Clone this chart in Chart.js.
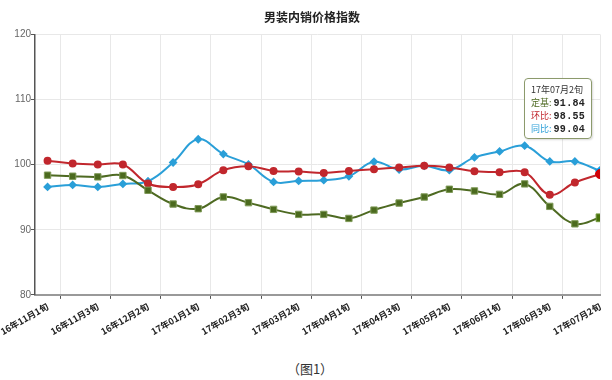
<!DOCTYPE html>
<html>
<head>
<meta charset="utf-8">
<script src="https://cdn.jsdelivr.net/npm/chart.js@4.4.0/dist/chart.umd.min.js"></script>
<style>
  body { margin: 0; background: #fff; }
  #wrap { position: relative; width: 612px; height: 350px; }
  #tip {
    position: absolute; display: none; background: rgba(255,255,255,0.95);
    border: 1.5px solid #8c9a6c; border-radius: 4px; padding: 4px 6px 3px 6px;
    font: 9px "Noto Sans CJK SC", sans-serif; color: #333; line-height: 13px;
    box-shadow: 1px 1px 2px rgba(0,0,0,0.15); white-space: nowrap;
  }
  #tip b { font: bold 10px "Liberation Mono", monospace; color: #222; letter-spacing: 0.3px; }
  #caption { width: 612px; text-align: center; font: 13px "Noto Sans CJK SC", sans-serif; color: #333; margin-top: 9px; padding-left: 8px; box-sizing: border-box; }
</style>
</head>
<body>
<div id="wrap">
  <canvas id="chart1" width="612" height="350"></canvas>
  <div id="tip"></div>
</div>
<div id="caption">（图1）</div>
<script>
var labels = ['16年11月1旬','16年11月2旬','16年11月3旬','16年12月1旬','16年12月2旬','16年12月3旬',
  '17年01月1旬','17年01月2旬','17年02月3旬','17年03月1旬','17年03月2旬','17年03月3旬',
  '17年04月1旬','17年04月2旬','17年04月3旬','17年05月1旬','17年05月2旬','17年05月3旬',
  '17年06月1旬','17年06月2旬','17年06月3旬','17年07月1旬','17年07月2旬'];
var dingji = [98.38, 98.22, 98.12, 98.33, 96.06, 93.95, 93.23, 95.03, 94.16, 93.13, 92.36, 92.36,
  91.74, 93.02, 94.10, 95.03, 96.22, 95.96, 95.44, 97.04, 93.59, 90.91, 91.84];
var huanbi = [100.59, 100.18, 100.03, 100.03, 97.10, 96.57, 96.99, 99.15, 99.77, 99.04, 98.95, 98.73,
  99.04, 99.31, 99.56, 99.82, 99.56, 99.00, 98.84, 98.84, 95.39, 97.25, 98.55];
var tongbi = [96.58, 96.89, 96.58, 97.04, 97.45, 100.33, 103.90, 101.62, 100.03, 97.35, 97.50, 97.61,
  98.22, 100.44, 99.25, 99.82, 99.15, 101.11, 102.03, 102.91, 100.49, 100.49, 99.04];
var seriesNames = ['定基', '环比', '同比'];
var yTicks = [80, 90, 100, 110, 120];

function pts(arr) {
  return arr.map(function (v, i) { return { x: i, y: v }; });
}

var font = '"Noto Sans CJK SC", sans-serif';

function externalTip(context) {
  var tip = document.getElementById('tip');
  var t = context.tooltip;
  if (t.opacity === 0) { tip.style.display = 'none'; return; }
  var html = '<div>' + labels[t.dataPoints[0].dataIndex] + '</div>';
  t.dataPoints.forEach(function (dp) {
    html += '<div><span style="color:' + dp.dataset.borderColor + '">' + dp.dataset.label + ':</span> <b>' +
      dp.parsed.y.toFixed(2) + '</b></div>';
  });
  tip.innerHTML = html;
  tip.style.display = 'block';
  tip.style.left = (t.caretX - 76) + 'px';
  tip.style.top = (context.chart.chartArea.top + 44) + 'px';
}

var ctx1 = document.getElementById('chart1').getContext('2d');
var chart1 = new Chart(ctx1, {
  type: 'line',
  data: {
    datasets: [{
      label: seriesNames[0],
      data: pts(dingji),
      borderColor: '#4e6a22',
      backgroundColor: '#4b6a1e',
      pointBorderColor: '#7f9a58',
      pointBorderWidth: 1,
      pointStyle: 'rect',
      pointRadius: 4.5,
      pointHoverRadius: 5.5,
      borderWidth: 2
    }, {
      label: seriesNames[1],
      data: pts(huanbi),
      borderColor: '#c1272d',
      backgroundColor: '#c1272d',
      pointBorderColor: '#c1272d',
      pointStyle: 'circle',
      pointRadius: 3,
      pointHoverRadius: 4.5,
      borderWidth: 2
    }, {
      label: seriesNames[2],
      data: pts(tongbi),
      borderColor: '#2a9fd8',
      backgroundColor: '#2a9fd8',
      pointBorderColor: '#2a9fd8',
      pointStyle: 'rectRot',
      pointRadius: 3,
      pointHoverRadius: 4.5,
      borderWidth: 2
    }]
  },
  options: {
    responsive: false,
    animation: false,
    layout: { padding: { left: 12, right: 0, top: 0, bottom: 11 } },
    elements: { line: { tension: 0.4 } },
    interaction: { mode: 'index', intersect: false },
    plugins: {
      legend: { display: false },
      title: {
        display: true,
        text: '男装内销价格指数',
        color: '#222',
        font: { family: font, size: 12, weight: 'bold' },
        padding: { top: 10, bottom: 10 }
      },
      tooltip: { enabled: false, external: externalTip }
    },
    scales: {
      x: {
        type: 'linear',
        min: -0.5,
        max: labels.length - 1,
        afterBuildTicks: function (scale) {
          var t = [];
          for (var i = 0; i < labels.length; i += 2) {
            t.push({ value: i });
            if (i + 0.5 < labels.length - 1) t.push({ value: i + 0.5 });
          }
          scale.ticks = t;
        },
        afterFit: function (scale) { scale.paddingRight = 12; scale.paddingLeft = 0; },
        border: { color: '#999', width: 2 },
        grid: {
          color: function (c) {
            if (!c.tick) return 'transparent';
            var v = c.tick.value;
            return (v % 1 !== 0 || v === labels.length - 1) ? '#e8e8e8' : 'transparent';
          },
          tickColor: function (c) {
            return c.tick && c.tick.value % 1 !== 0 ? '#555' : 'transparent';
          },
          tickLength: 4
        },
        ticks: {
          autoSkip: false,
          minRotation: 30,
          maxRotation: 30,
          padding: 2,
          color: '#222',
          font: { family: font, size: 9, weight: 'bold' },
          callback: function (v) { return v % 1 === 0 ? labels[v] : ''; }
        }
      },
      y: {
        min: yTicks[0],
        max: yTicks[yTicks.length - 1],
        afterBuildTicks: function (scale) {
          scale.ticks = yTicks.map(function (v) { return { value: v }; });
        },
        afterFit: function (scale) { scale.width = 23; },
        border: { color: '#555', width: 1.5 },
        grid: { color: '#e8e8e8', tickColor: '#555', tickLength: 4 },
        ticks: {
          padding: 0,
          color: '#666',
          font: { family: '"Liberation Sans", Arial, sans-serif', size: 10 }
        }
      }
    }
  }
});

var act = [0, 1, 2].map(function (d) { return { datasetIndex: d, index: labels.length - 1 }; });
var p = chart1.getDatasetMeta(1).data[labels.length - 1];
chart1.setActiveElements(act);
chart1.tooltip.setActiveElements(act, { x: p.x, y: p.y });
chart1.update('none');
</script>
</body>
</html>
